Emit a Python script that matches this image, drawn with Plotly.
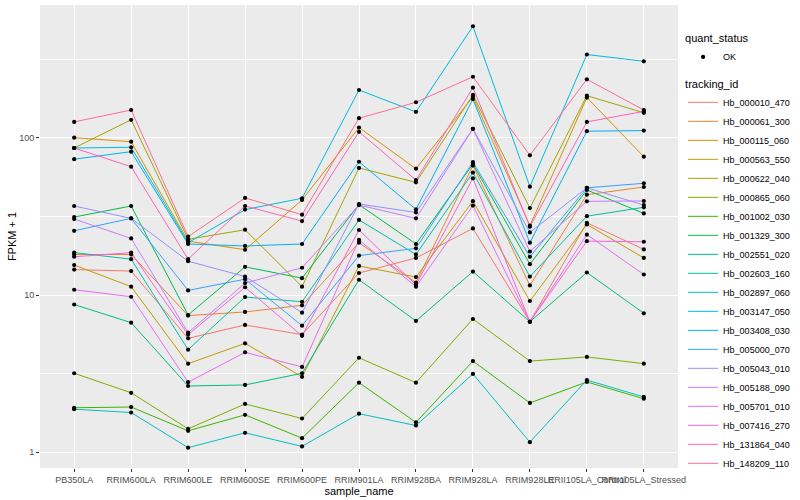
import plotly.graph_objects as go

samples = ["PB350LA", "RRIM600LA", "RRIM600LE", "RRIM600SE", "RRIM600PE",
           "RRIM901LA", "RRIM928BA", "RRIM928LA", "RRIM928LE",
           "RRII105LA_Control", "RRII105LA_Stressed"]

tracking_ids = ["Hb_000010_470", "Hb_000061_300", "Hb_000115_060", "Hb_000563_550",
                "Hb_000622_040", "Hb_000865_060", "Hb_001002_030", "Hb_001329_300",
                "Hb_002551_020", "Hb_002603_160", "Hb_002897_060", "Hb_003147_050",
                "Hb_003408_030", "Hb_005000_070", "Hb_005043_010", "Hb_005188_090",
                "Hb_005701_010", "Hb_007416_270", "Hb_131864_040", "Hb_148209_110"]

# FPKM + 1 values, one list per tracking_id (order follows samples)
hb_000010_470 = [14.5, 14.2, 5.3, 6.45, 5.6, 13.8, 17.2, 26.5, 6.76, 28.8, 19.5]
hb_000061_300 = [18.1, 18.1, 7.4, 7.8, 8.6, 21.5, 12.0, 66.5, 11.5, 43.4, 48.6]
hb_000115_060 = [100, 94.3, 22.0, 19.4, 40.2, 116, 63.5, 182, 27.6, 180, 75.7]
hb_000563_550 = [15.5, 11.3, 3.66, 4.93, 3.02, 15.3, 13.0, 39.5, 9.16, 28.1, 17.2]
hb_000622_040 = [86, 130, 22.6, 26.0, 11.3, 64.2, 52, 187, 35.7, 185, 144]
hb_000865_060 = [3.18, 2.39, 1.41, 2.03, 1.64, 3.99, 2.77, 7.04, 3.8, 4.04, 3.66]
hb_001002_030 = [1.92, 1.94, 1.37, 1.73, 1.23, 2.77, 1.55, 3.80, 2.06, 2.80, 2.19]
hb_001329_300 = [31.3, 36.8, 7.46, 15.1, 12.8, 37.5, 21.1, 68, 15.7, 46.5, 33]
hb_002551_020 = [8.7, 6.67, 2.64, 2.68, 3.18, 12.5, 6.84, 14.1, 6.76, 13.9, 7.65]
hb_002603_160 = [18.6, 16.9, 4.49, 9.7, 9.06, 30, 18.1, 60, 13.1, 31.7, 36.1]
hb_002897_060 = [1.88, 1.79, 1.07, 1.33, 1.09, 1.76, 1.48, 3.15, 1.16, 2.88, 2.25]
hb_003147_050 = [86, 86.9, 21.5, 34.9, 41.2, 201, 146, 511, 48.8, 338, 306]
hb_003408_030 = [73, 81.5, 21.1, 20.5, 21.1, 70.3, 35, 176, 21.5, 110, 111]
hb_005000_070 = [25.6, 30.7, 10.7, 12.6, 6.38, 17.8, 19.8, 70, 17.5, 48, 51.3]
hb_005043_010 = [36.8, 30.7, 16.4, 13.1, 7.72, 37.9, 33.5, 114, 25, 48, 37.3]
hb_005188_090 = [30.4, 22.9, 5.76, 11.9, 14.9, 37.3, 30.7, 114, 18.9, 39.4, 39.6]
hb_005701_010 = [10.8, 9.75, 2.79, 4.32, 3.49, 22.4, 11.3, 37, 6.76, 24.2, 13.5]
hb_007416_270 = [17.5, 18.6, 5.6, 11.2, 5.5, 25.9, 11.6, 55.2, 6.76, 22, 21.8]
hb_131864_040 = [86, 65.4, 16.9, 36.8, 29.5, 109, 53.8, 208, 27.2, 126, 147]
hb_148209_110 = [126, 150, 23.5, 41.4, 32.4, 133, 168, 244, 77.3, 235, 150]

series_values = [hb_000010_470, hb_000061_300, hb_000115_060, hb_000563_550,
                 hb_000622_040, hb_000865_060, hb_001002_030, hb_001329_300,
                 hb_002551_020, hb_002603_160, hb_002897_060, hb_003147_050,
                 hb_003408_030, hb_005000_070, hb_005043_010, hb_005188_090,
                 hb_005701_010, hb_007416_270, hb_131864_040, hb_148209_110]

colors = ["#F8766D", "#EA8331", "#D89000", "#C09B00", "#A3A500", "#7CAE00",
          "#39B600", "#00BB4E", "#00BF7D", "#00C1A3", "#00BFC4", "#00BAE0",
          "#00B0F6", "#35A2FF", "#9590FF", "#C77CFF", "#E76BF3", "#FA62DB",
          "#FF62BC", "#FF6C91"]

fig = go.Figure()

for tid, vals, col in zip(tracking_ids, series_values, colors):
    fig.add_trace(go.Scatter(
        x=samples, y=vals, mode="lines", name=tid,
        line=dict(color=col, width=1),
        legend="legend2", hoverinfo="name+y"))

all_x = [s for vals in series_values for s in samples]
all_y = [v for vals in series_values for v in vals]
fig.add_trace(go.Scatter(
    x=all_x, y=all_y, mode="markers", name="OK",
    marker=dict(color="black", size=4.2, symbol="circle"),
    legend="legend"))

fig.update_layout(
    width=800, height=500,
    margin=dict(l=40, r=117, t=5, b=32),
    paper_bgcolor="white", plot_bgcolor="#EBEBEB",
    font=dict(family="Liberation Sans, Arial, sans-serif", size=9, color="black"),
    xaxis=dict(type="category", range=[-0.6, 10.6], showgrid=True,
               gridcolor="white", gridwidth=1.07, zeroline=False,
               ticks="outside", ticklen=3, tickcolor="#333333", tickangle=0,
               tickfont=dict(size=9, color="#4D4D4D"),
               title=dict(text="sample_name", font=dict(size=11, color="black"), standoff=0),
               automargin=False),
    yaxis=dict(type="log", range=[-0.0998, 2.8436],
               tickvals=[1, 10, 100], ticktext=["1", "10", "100"],
               showgrid=True, gridcolor="white", gridwidth=1.07, zeroline=False,
               ticks="outside", ticklen=3, tickcolor="#333333",
               tickfont=dict(size=9, color="#4D4D4D"),
               minor=dict(tickmode="array", tickvals=[10 ** 0.5, 10 ** 1.5, 10 ** 2.5],
                          showgrid=True, gridcolor="white", gridwidth=0.53, ticks=""),
               title=dict(text="FPKM + 1", font=dict(size=11, color="black"), standoff=0),
               automargin=False),
    legend=dict(title=dict(text="quant_status", font=dict(size=11)),
                x=1.008, y=0.95, xanchor="left", yanchor="top",
                font=dict(size=9), bgcolor="rgba(0,0,0,0)", itemwidth=30),
    legend2=dict(title=dict(text="tracking_id", font=dict(size=11)),
                 x=1.008, y=0.852, xanchor="left", yanchor="top",
                 font=dict(size=9), bgcolor="rgba(0,0,0,0)", itemwidth=30),
    showlegend=True,
)

fig.write_html("out.html", config={"displayModeBar": False},
               post_script="document.body.style.margin='0';document.body.style.padding='0';")
